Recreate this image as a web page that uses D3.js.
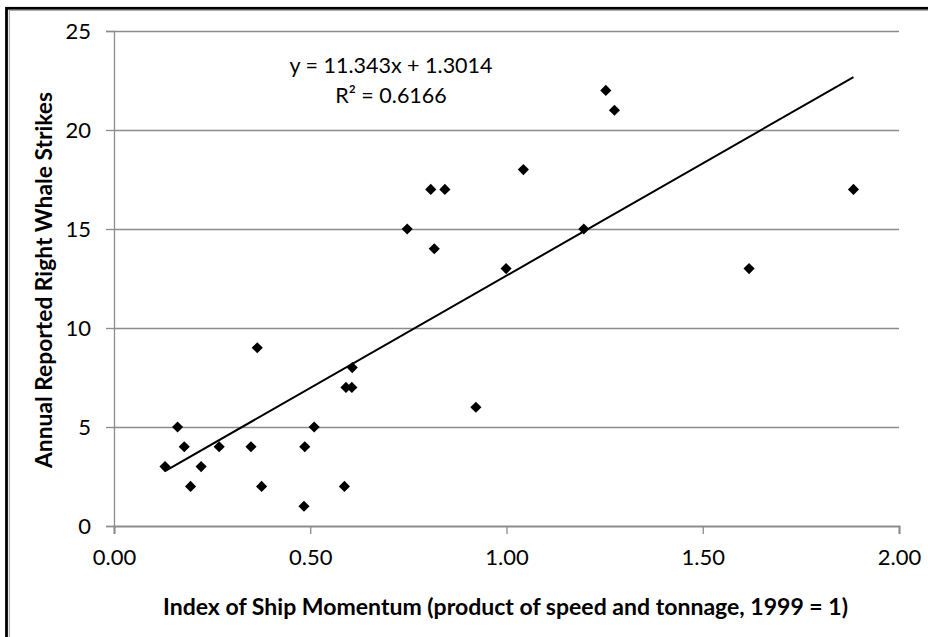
<!DOCTYPE html>
<html>
<head>
<meta charset="utf-8">
<script src="https://cdn.jsdelivr.net/npm/d3@7"></script>
<style>
  body { margin: 0; background: #fff; }
  text { font-family: Lato, "Liberation Sans", sans-serif; fill: #000; }
</style>
</head>
<body>
<div id="chart"></div>
<script>
// momentum index vs reported strikes
var momentum = [0.130, 0.162, 0.179, 0.195, 0.222, 0.268, 0.349, 0.365, 0.376, 0.484,
                0.486, 0.510, 0.587, 0.591, 0.606, 0.607, 0.747, 0.807, 0.843, 0.816,
                1.043, 0.999, 1.197, 0.922, 1.253, 1.275, 1.884, 1.618];
var strikes = [3, 5, 4, 2, 3, 4, 4, 9, 2, 1,
               4, 5, 2, 7, 7, 8, 15, 17, 17, 14,
               18, 13, 15, 6, 22, 21, 17, 13];
var xTicks = [0, 0.5, 1, 1.5, 2];
var yTicks = [0, 5, 10, 15, 20, 25];
var slope = 11.343, intercept = 1.3014;
var eqLines = ["y = 11.343x + 1.3014", "R² = 0.6166"];

var svgWidth = 928;
var svgHeight = 637;

var margin = { top: 31, right: 29, bottom: 111, left: 114 };
var width = svgWidth - margin.left - margin.right;
var height = svgHeight - margin.top - margin.bottom;

var svg = d3.select("#chart")
    .append("svg")
    .attr("width", svgWidth)
    .attr("height", svgHeight);

// outer frame (black with thin grey inner line)
svg.append("rect")
    .attr("x", 6.5).attr("y", 8.3)
    .attr("width", 1000).attr("height", 1000)
    .attr("fill", "none").attr("stroke", "#000").attr("stroke-width", 2.8);
svg.append("rect")
    .attr("x", 9.3).attr("y", 10.3)
    .attr("width", 1000).attr("height", 1000)
    .attr("fill", "none").attr("stroke", "#999").attr("stroke-width", 1);

var chart = svg.append("g")
    .attr("transform", `translate(${margin.left}, ${margin.top})`);

var x = d3.scaleLinear().domain([0, 2]).range([0, width]);
var y = d3.scaleLinear().domain([0, 25]).range([height, 0]);

// horizontal gridlines
chart.append("g")
    .selectAll("line")
    .data(yTicks.filter(function (d) { return d > 0; }))
    .enter().append("line")
    .attr("x1", 0).attr("x2", width)
    .attr("y1", function (d) { return Math.round(y(d)) + 0.5; })
    .attr("y2", function (d) { return Math.round(y(d)) + 0.5; })
    .attr("stroke", "#8c8c8c").attr("stroke-width", 1.3);

// y axis
var leftAxis = d3.axisLeft(y).tickValues(yTicks).tickSize(8).tickPadding(15)
    .tickFormat(d3.format("d"));
var yAxis = chart.append("g").call(leftAxis);
yAxis.select(".domain").attr("stroke", "#8c8c8c").attr("stroke-width", 1.3);
yAxis.selectAll(".tick line").attr("stroke", "#8c8c8c").attr("stroke-width", 1.3);
yAxis.selectAll("text").style("font-size", "22px").attr("dy", "0.36em");

// x axis
var bottomAxis = d3.axisBottom(x).tickValues(xTicks).tickSize(8).tickPadding(12)
    .tickFormat(d3.format(".2f"));
var xAxis = chart.append("g")
    .attr("transform", `translate(0, ${height})`)
    .call(bottomAxis);
xAxis.select(".domain").attr("stroke", "#8c8c8c").attr("stroke-width", 2);
xAxis.selectAll(".tick line").attr("stroke", "#8c8c8c").attr("stroke-width", 1.3);
xAxis.selectAll("text").style("font-size", "22px").attr("dy", "0.85em");

// trendline over the data range
var xMin = d3.min(momentum), xMax = d3.max(momentum);
chart.append("line")
    .attr("x1", x(xMin)).attr("y1", y(slope * xMin + intercept))
    .attr("x2", x(xMax)).attr("y2", y(slope * xMax + intercept))
    .attr("stroke", "#000").attr("stroke-width", 2);

// diamond markers
var diamond = d3.symbol().type(d3.symbolSquare).size(62);
chart.selectAll("path.pt")
    .data(momentum)
    .enter().append("path")
    .attr("class", "pt")
    .attr("d", diamond)
    .attr("transform", function (d, i) {
        return "translate(" + x(d) + "," + y(strikes[i]) + ") rotate(45)";
    })
    .attr("fill", "#000");

// equation label
chart.selectAll("text.eq")
    .data(eqLines)
    .enter().append("text")
    .attr("class", "eq")
    .attr("x", 391 - margin.left)
    .attr("y", function (d, i) { return 73 - margin.top + i * 30; })
    .style("text-anchor", "middle")
    .style("font-size", "21.5px")
    .text(function (d) { return d; });

// axis titles
svg.append("text")
    .attr("transform", "translate(52, 280) rotate(-90)")
    .style("text-anchor", "middle")
    .style("font-size", "22px")
    .style("font-weight", "bold")
    .attr("textLength", 376)
    .attr("lengthAdjust", "spacingAndGlyphs")
    .text("Annual Reported Right Whale Strikes");

svg.append("text")
    .attr("x", 505.5)
    .attr("y", 615)
    .style("text-anchor", "middle")
    .style("font-size", "22px")
    .style("font-weight", "bold")
    .attr("textLength", 685)
    .attr("lengthAdjust", "spacingAndGlyphs")
    .text("Index of Ship Momentum (product of speed and tonnage, 1999 = 1)");
</script>
</body>
</html>
